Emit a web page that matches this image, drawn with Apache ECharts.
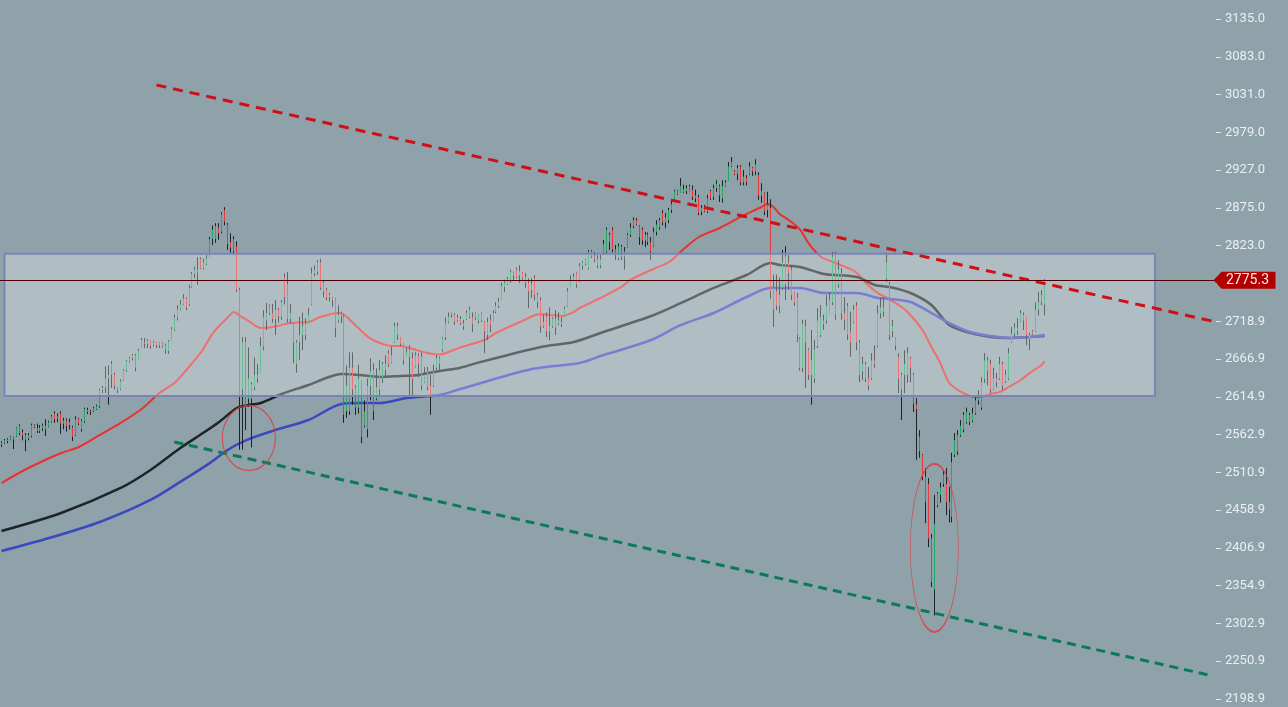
<!DOCTYPE html>
<html><head><meta charset="utf-8">
<script src="https://cdn.jsdelivr.net/npm/echarts@6/dist/echarts.min.js"></script>
<style>html,body{margin:0;padding:0;background:#8fa2aa;}#c{width:1288px;height:707px;}</style>
</head><body><div id="c"></div>
<script>
// candles: [open, close, low, high]
const ohlc = [
[2552,2549,2546,2554],[2551,2555,2550,2557],[2554,2556,2551,2558],[2556,2560,2555,2561],[2559,2556,2543,2560],
[2561,2572,2560,2573],[2575,2565,2562,2577],[2566,2562,2555,2570],[2562,2556,2540,2565],[2558,2562,2555,2565],
[2561,2576,2559,2578],[2576,2573,2572,2577],[2572,2568,2565,2578],[2568,2572,2565,2576],[2571,2575,2568,2578],
[2575,2570,2561,2584],[2574,2580,2573,2582],[2580,2588,2579,2590],[2592,2584,2579,2595],[2585,2588,2580,2592],
[2592,2578,2564,2595],[2578,2582,2570,2586],[2582,2575,2567,2585],[2576,2580,2570,2585],[2573,2560,2554,2575],
[2562,2584,2561,2588],[2585,2578,2576,2586],[2570,2582,2567,2584],[2581,2598,2579,2600],[2597,2594,2591,2600],
[2594,2595,2590,2597],[2595,2599,2594,2601],[2598,2602,2597,2604],[2602,2624,2600,2626],[2624,2627,2620,2630],
[2628,2640,2620,2657],[2640,2645,2604,2658],[2660,2645,2627,2664],[2645,2630,2625,2648],[2627,2624,2620,2628],
[2626,2636,2624,2639],[2638,2651,2637,2653],[2651,2664,2649,2666],[2664,2668,2662,2670],[2668,2672,2665,2674],
[2672,2655,2650,2674],[2665,2678,2665,2681],[2682,2693,2682,2696],[2690,2688,2682,2696],[2688,2692,2682,2694],
[2693,2685,2681,2693],[2686,2690,2684,2692],[2689,2686,2682,2690],[2686,2689,2682,2690],[2689,2685,2683,2690],
[2686,2680,2674,2688],[2678,2691,2674,2693],[2692,2708,2692,2711],[2708,2724,2706,2728],[2724,2735,2720,2741],
[2736,2742,2734,2748],[2742,2750,2741,2756],[2750,2738,2734,2752],[2742,2764,2740,2769],[2766,2784,2765,2787],
[2784,2790,2778,2794],[2790,2786,2769,2807],[2805,2792,2791,2807],[2800,2792,2790,2805],[2798,2805,2796,2810],
[2806,2832,2806,2835],[2832,2845,2824,2851],[2832,2850,2827,2854],[2848,2840,2831,2854],[2842,2866,2840,2869],
[2872,2856,2851,2876],[2852,2825,2817,2854],[2828,2820,2813,2840],[2832,2815,2810,2836],[2822,2762,2759,2829],
[2762,2615,2542,2765],[2625,2690,2542,2697],[2690,2600,2569,2697],[2612,2640,2601,2683],[2612,2632,2545,2635],
[2628,2645,2624,2669],[2645,2640,2634,2660],[2648,2685,2648,2697],[2684,2725,2679,2734],[2720,2730,2707,2744],
[2740,2730,2728,2742],[2730,2722,2717,2743],[2722,2735,2700,2748],[2734,2726,2717,2737],[2725,2745,2721,2748],
[2780,2752,2742,2785],[2770,2722,2717,2787],[2722,2730,2716,2743],[2715,2690,2661,2716],[2660,2690,2648,2693],
[2690,2700,2666,2725],[2700,2712,2679,2731],[2700,2716,2693,2723],[2716,2728,2716,2737],[2742,2785,2741,2793],
[2785,2790,2781,2796],[2800,2787,2783,2803],[2800,2765,2762,2805],[2772,2760,2752,2776],[2762,2752,2748,2765],
[2752,2755,2746,2758],[2752,2748,2739,2752],[2750,2710,2697,2751],[2720,2728,2717,2741],[2726,2730,2716,2732],
[2726,2590,2579,2728],[2595,2630,2586,2658],[2595,2655,2590,2676],[2655,2625,2604,2676],[2628,2600,2590,2631],
[2600,2640,2592,2659],[2638,2560,2551,2638],[2575,2595,2573,2610],[2570,2630,2559,2640],[2630,2650,2610,2668],
[2652,2595,2583,2661],[2612,2628,2610,2654],[2625,2652,2615,2666],[2640,2660,2634,2663],[2660,2652,2642,2672],
[2675,2660,2656,2679],[2662,2672,2661,2684],[2690,2712,2689,2717],[2712,2700,2693,2717],[2697,2688,2685,2697],
[2688,2665,2659,2688],[2670,2676,2670,2683],[2680,2670,2617,2686],[2668,2640,2617,2676],[2656,2672,2655,2676],
[2672,2660,2642,2675],[2670,2630,2624,2676],[2635,2645,2634,2656],[2650,2628,2624,2656],[2630,2615,2590,2645],
[2630,2650,2628,2659],[2655,2668,2652,2672],[2668,2660,2652,2670],[2680,2695,2677,2697],[2697,2716,2693,2724],
[2718,2725,2716,2731],[2730,2728,2724,2731],[2728,2718,2714,2730],[2720,2724,2718,2728],[2722,2716,2714,2726],
[2716,2712,2707,2721],[2722,2730,2721,2734],[2735,2725,2723,2739],[2724,2715,2704,2731],[2730,2724,2721,2731],
[2720,2727,2716,2728],[2730,2720,2718,2731],[2718,2705,2675,2719],[2700,2718,2693,2724],[2720,2714,2704,2728],
[2718,2730,2718,2734],[2732,2740,2730,2745],[2740,2746,2737,2751],[2748,2767,2748,2772],[2766,2772,2759,2776],
[2770,2777,2769,2780],[2775,2787,2772,2790],[2786,2782,2776,2787],[2790,2780,2778,2793],[2782,2788,2772,2796],
[2786,2778,2776,2787],[2780,2772,2765,2785],[2772,2760,2737,2778],[2762,2770,2751,2778],[2778,2755,2748,2782],
[2755,2745,2737,2758],[2748,2712,2703,2752],[2712,2718,2710,2728],[2725,2705,2697,2731],[2705,2712,2693,2738],
[2712,2722,2710,2724],[2722,2710,2700,2734],[2716,2720,2714,2731],[2718,2715,2711,2724],[2726,2736,2725,2739],
[2740,2760,2739,2765],[2766,2776,2766,2782],[2776,2780,2775,2785],[2784,2770,2765,2786],[2774,2795,2773,2799],
[2795,2800,2790,2802],[2798,2804,2796,2805],[2792,2815,2790,2817],[2816,2808,2806,2817],[2808,2805,2800,2814],
[2805,2796,2792,2810],[2796,2804,2792,2810],[2812,2825,2810,2831],[2815,2845,2813,2848],[2838,2828,2817,2841],
[2845,2818,2814,2848],[2818,2810,2803,2824],[2806,2822,2803,2826],[2822,2808,2803,2824],[2808,2815,2790,2821],
[2820,2838,2820,2840],[2838,2848,2835,2854],[2850,2858,2847,2862],[2858,2852,2851,2861],[2850,2835,2824,2851],
[2845,2830,2824,2848],[2830,2838,2821,2842],[2838,2828,2824,2841],[2828,2815,2803,2835],[2822,2842,2821,2848],
[2842,2852,2837,2858],[2848,2858,2845,2861],[2868,2855,2851,2872],[2855,2862,2847,2868],[2858,2872,2854,2875],
[2872,2880,2868,2886],[2886,2898,2886,2900],[2899,2894,2893,2900],[2896,2905,2896,2916],[2901,2896,2895,2907],
[2898,2902,2894,2906],[2905,2898,2898,2907],[2900,2890,2886,2906],[2892,2888,2883,2900],[2890,2868,2865,2893],
[2870,2875,2865,2879],[2875,2870,2869,2879],[2870,2888,2868,2893],[2898,2888,2886,2900],[2890,2902,2886,2907],
[2902,2908,2897,2913],[2905,2892,2883,2907],[2888,2905,2882,2913],[2905,2910,2904,2913],[2912,2932,2912,2938],
[2932,2938,2931,2945],[2926,2921,2920,2927],[2922,2930,2913,2934],[2932,2910,2906,2934],[2910,2918,2906,2927],
[2916,2910,2906,2920],[2921,2932,2920,2938],[2930,2925,2919,2931],[2925,2935,2920,2942],[2920,2892,2886,2924],
[2892,2898,2882,2909],[2895,2870,2865,2896],[2872,2880,2862,2897],[2875,2760,2750,2887],[2765,2735,2711,2783],
[2760,2740,2734,2783],[2740,2755,2730,2779],[2765,2800,2762,2817],[2770,2808,2748,2822],[2800,2785,2762,2810],
[2790,2755,2748,2796],[2758,2745,2740,2759],[2752,2700,2690,2758],[2695,2655,2651,2697],[2655,2715,2649,2721],
[2712,2690,2627,2721],[2680,2645,2638,2682],[2645,2665,2604,2707],[2640,2680,2634,2693],[2685,2720,2682,2737],
[2700,2725,2697,2741],[2720,2715,2707,2728],[2720,2740,2716,2755],[2730,2748,2730,2759],[2745,2808,2741,2814],
[2810,2728,2721,2814],[2770,2790,2765,2803],[2785,2730,2721,2792],[2730,2720,2707,2752],[2740,2700,2693,2744],
[2705,2690,2670,2732],[2718,2735,2716,2741],[2740,2690,2679,2745],[2690,2645,2635,2693],[2650,2660,2638,2670],
[2660,2640,2635,2663],[2640,2630,2624,2656],[2640,2665,2638,2675],[2665,2660,2655,2686],[2685,2730,2683,2741],
[2730,2738,2723,2752],[2738,2732,2725,2752],[2778,2800,2773,2813],[2770,2700,2693,2773],[2705,2712,2697,2721],
[2697,2685,2679,2697],[2670,2640,2620,2675],[2625,2645,2583,2648],[2645,2660,2620,2679],[2645,2675,2634,2683],
[2668,2655,2635,2670],[2645,2605,2594,2648],[2604,2598,2528,2613],[2560,2540,2531,2569],[2535,2505,2500,2536],
[2505,2470,2441,2517],[2495,2420,2408,2503],[2420,2360,2353,2426],[2350,2440,2314,2480],[2466,2482,2463,2484],
[2480,2490,2469,2497],[2508,2495,2491,2514],[2495,2470,2452,2517],[2470,2460,2442,2491],[2450,2525,2442,2538],
[2535,2555,2532,2565],[2540,2562,2535,2569],[2562,2575,2560,2583],[2570,2590,2566,2594],[2580,2594,2578,2600],
[2590,2580,2576,2593],[2582,2592,2580,2600],[2592,2610,2590,2614],[2610,2615,2604,2624],[2600,2635,2597,2642],
[2640,2665,2634,2675],[2665,2650,2631,2670],[2660,2625,2620,2666],[2625,2640,2624,2655],[2640,2635,2628,2648],
[2640,2660,2638,2670],[2660,2630,2624,2663],[2636,2645,2634,2652],[2640,2675,2638,2682],[2690,2702,2689,2711],
[2702,2710,2697,2716],[2710,2705,2700,2723],[2719,2730,2718,2734],[2728,2720,2707,2731],[2725,2700,2686,2725],
[2695,2700,2679,2703],[2705,2701,2700,2707],[2705,2735,2704,2745],[2735,2745,2727,2759],[2755,2745,2741,2762],
[2742,2775.3,2727,2777]
];
// moving averages: [candle index, value]
const maFast = [[0,2496.2],[9,2516.9],[20,2537.5],[26,2545.8],[33,2562.4],[40,2578.9],[47,2598.1],[53,2620.2],[58,2634],[62,2651.8],[67,2676.6],[71,2702.8],[76,2724.8],[78,2731.7],[80,2726.2],[83,2719],[87,2709.7],[91,2711.0],[97,2716.5],[103,2717.9],[107,2724.8],[113,2730.3],[115,2727.6],[118,2716.5],[123,2697.3],[127,2688.9],[131,2684.9],[134,2685],[138,2680.7],[143,2675.2],[147,2673],[150,2676.6],[154,2683],[162,2693.1],[166,2702.8],[174,2717.9],[181,2728.9],[184,2727.6],[188,2726.2],[192,2731.7],[194,2737.2],[201,2750.9],[208,2766.1],[211,2776],[218,2789.5],[224,2800.5],[228,2815],[234,2834.9],[241,2847.3],[248,2862.5],[255,2876.2],[257,2880.4],[259,2876.2],[261,2867],[265,2855.6],[268,2844.6],[271,2825],[275,2807.4],[279,2800.5],[284,2792.2],[287,2785.4],[290,2771.6],[294,2757.8],[297,2751.0],[301,2741.3],[304,2731.7],[309,2706.9],[312,2683.5],[315,2661.5],[318,2633.9],[322,2621.6],[325,2616.0],[328,2614.7],[332,2618.8],[335,2621.6],[338,2628.4],[342,2638.1],[345,2647.7],[349,2658.7],[350,2664.2]];
const maMid = [[0,2430.2],[20,2455.0],[40,2489.4],[50,2514.2],[60,2544.4],[68,2566],[73,2580.2],[79,2599.5],[83,2603.7],[87,2606.4],[94,2618.8],[103,2631.2],[109,2640.8],[114,2646.3],[120,2645.0],[127,2642.2],[134,2643.6],[140,2645.0],[147,2650.5],[154,2655],[160,2662],[170,2672.5],[181,2683.5],[192,2690.4],[201,2702.8],[218,2726.2],[228,2744.1],[239,2764.8],[250,2782.6],[258,2799.1],[261,2796.4],[268,2793.6],[276,2784.0],[287,2779.9],[293,2768.9],[298,2766.1],[305,2757.8],[312,2741.3],[318,2713.8],[325,2702.9],[332,2697.3],[338,2695.9],[345,2697.3],[350,2698.6]];
const maSlow = [[0,2402.6],[16,2420.5],[33,2442.6],[50,2472.9],[62,2503],[70,2524],[76,2542],[82,2555],[91,2568],[103,2583.0],[114,2605.0],[120,2606.4],[127,2606.4],[136,2613.3],[147,2617.4],[154,2625.7],[178,2653.2],[194,2661.5],[201,2671.1],[218,2693.1],[228,2713.8],[239,2730.3],[250,2752.3],[258,2764.7],[268,2764.7],[276,2757.8],[287,2757.8],[294,2750.9],[298,2749.6],[305,2745.4],[312,2730.3],[318,2716.5],[325,2704.2],[332,2698.6],[338,2695.9],[345,2697.3],[350,2700.0]];
const yTicks = [2198.9,2250.9,2302.9,2354.9,2406.9,2458.9,2510.9,2562.9,2614.9,2666.9,2718.9,2771.0,2823.0,2875.0,2927.0,2979.0,3031.0,3083.0,3135.0];
const lastPrice = 2775.3;
const resistance = [[52,3044.2],[406,2719.4]];
const support = [[58,2552.7],[406,2231.1]];
const zone = [[1,2812],[387,2616]];
const circles = [[83,2558.2],[313,2406.8]];
const circleSizes = [[53,65],[48,168]];
const TOTAL = 408;

const categories = Array.from({length: TOTAL}, (_, i) => String(i + 1));
const bodies = ohlc.map(d => [d[0], d[1], Math.min(d[0], d[1]), Math.max(d[0], d[1])]);
const UP = '#26a862', DOWN = '#e23b3b', WICK = '#1d2428';

const chart = echarts.init(document.getElementById('c'), null, {renderer: 'canvas'});
chart.setOption({
  animation: false,
  backgroundColor: '#8fa2aa',
  textStyle: {fontFamily: 'Roboto, sans-serif'},
  grid: {left: 0, right: 72, top: 19, bottom: 8},
  xAxis: {type: 'category', data: categories, show: false, boundaryGap: true},
  yAxis: {
    type: 'value', position: 'right', min: yTicks[0], max: yTicks[yTicks.length - 1],
    splitLine: {show: false}, axisLine: {show: false},
    axisTick: {show: true, customValues: yTicks, length: 5, lineStyle: {color: '#e4eaed', width: 1}},
    axisLabel: {customValues: yTicks, formatter: v => v.toFixed(1), color: '#eaeff1', fontSize: 13, margin: 9, fontFamily: 'Roboto'}
  },
  series: [
    {type: 'candlestick', name: 'wick', data: ohlc, barWidth: 1, z: 2, silent: true,
     itemStyle: {color: WICK, color0: WICK, borderColor: WICK, borderColor0: WICK, borderWidth: 1}},
    {type: 'candlestick', name: 'body', data: bodies, barWidth: 1, z: 2, silent: true,
     itemStyle: {color: UP, color0: DOWN, borderColor: UP, borderColor0: DOWN, borderWidth: 1}},
    {type: 'line', name: 'MA fast', data: maFast, z: 2, symbol: 'none', smooth: 0.3, silent: true,
     lineStyle: {color: '#e8312d', width: 2}},
    {type: 'line', name: 'MA mid', data: maMid, z: 2, symbol: 'none', smooth: 0.3, silent: true,
     lineStyle: {color: '#1d2529', width: 2.5}},
    {type: 'line', name: 'MA slow', data: maSlow, z: 2, symbol: 'none', smooth: 0.3, silent: true,
     lineStyle: {color: '#3b48be', width: 2.5}},
    {type: 'line', name: 'resistance', data: resistance, z: 4, symbol: 'none', silent: true,
     lineStyle: {color: '#cf0f16', width: 3, type: [10, 7]},
     markArea: {z: 3, silent: true, data: [[{coord: zone[0]}, {coord: zone[1]}]],
       itemStyle: {color: 'rgba(255,255,255,0.3)', borderColor: '#7985b6', borderWidth: 2}},
     markLine: {z: 5, silent: true, symbol: ['none', 'none'], label: {show: false},
       data: [{yAxis: lastPrice}], lineStyle: {color: '#4a0000', width: 1, type: 'solid', opacity: 1}},
     markPoint: {z: 6, silent: true,
       data: [{coord: [TOTAL - 1, lastPrice], value: lastPrice}],
       symbol: 'path://M0,8.5L8,0L62,0L62,17L8,17Z', symbolSize: [62, 17], symbolOffset: [30, 0], symbolKeepAspect: false,
       itemStyle: {color: '#b20000'},
       label: {show: true, position: 'inside', offset: [3, 0], formatter: () => lastPrice.toFixed(1), color: '#fbeaea', fontSize: 14, fontFamily: 'Roboto'}}
    },
    {type: 'line', name: 'support', data: support, z: 4, symbol: 'none', silent: true,
     lineStyle: {color: '#0c7a58', width: 3, type: [9, 6]}},
    {type: 'scatter', name: 'circles', z: 4, silent: true, symbol: 'circle',
     data: circles.map((c, i) => ({value: c, symbolSize: circleSizes[i]})),
     itemStyle: {color: 'rgba(0,0,0,0)', borderColor: '#e23838', borderWidth: 1.2}}
  ]
});
</script>
</body></html>
